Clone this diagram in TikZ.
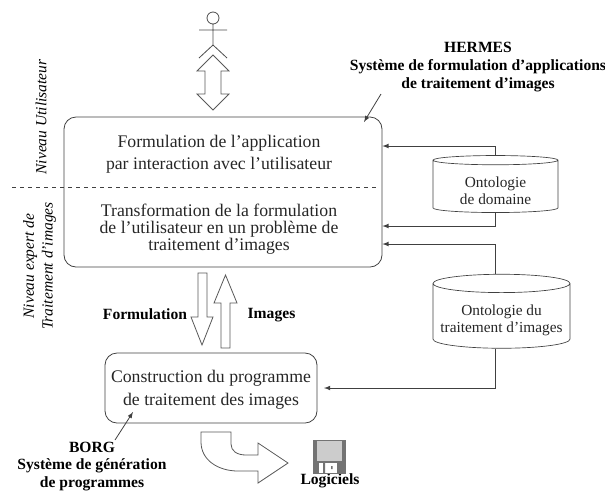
\documentclass[tikz,border=0pt]{standalone}
\usepackage{fontspec}
\setmainfont{Liberation Serif}
\usetikzlibrary{shapes.geometric}
\usetikzlibrary{arrows}

\tikzset{
	boite/.style={draw=black!75,rounded corners=9,line width=0.6pt},
	texte/.style={align=center,inner sep=0pt,font=\fontsize{13.3}{13}\selectfont,text=black!85},
	gras/.style={align=center,inner sep=0pt,font=\fontsize{11.7}{13.4}\selectfont\bfseries},
	niveau/.style={align=center,inner sep=0pt,rotate=90,font=\fontsize{11.6}{14}\selectfont\itshape},
	ontologie/.style={draw=black!75,line width=0.5pt,cylinder,shape border rotate=90,align=center,inner sep=0pt,font=\fontsize{11.5}{13}\selectfont,text=black!85},
	lien/.style={-latex,draw=black!75,line width=0.6pt},
	bloc/.style={draw=black!65,line width=0.6pt,line join=miter,fill=white}
}

\begin{document}
\begin{tikzpicture}[x=0.75pt,y=-0.75pt]
	\useasboundingbox (0,0) rectangle (605,490);

	% the two boxes
	\node[boite,minimum width=238.5pt,minimum height=112.5pt] (systeme) at (223,192) {};
	\node[boite,minimum width=159pt,minimum height=52.5pt] (programme) at (211,388) {};

	% dashed level line
	\coordinate (tiretG) at (12,187);
	\coordinate (tiretD) at (378,187);
	\draw[dashed,draw=black!75,line width=0.5pt] (tiretG) -- (tiretD);

	% text of the boxes
	\node[texte] (formulation) at (219,154) {Formulation de l’application\\[3.5pt]par interaction avec l’utilisateur};
	\node[texte] (transformation) at (219,229) {Transformation de la formulation\\de l’utilisateur en un problème de\\traitement d’images};
	\node[texte] (construction) at (211,390) {Construction du programme\\[4pt]de traitement des images};

	% level labels
	\node[niveau] (utilisateur) at (41,117) {Niveau Utilisateur};
	\node[niveau] (expert) at (39.5,266) {Niveau expert de\\Traitement d’images};

	% databases
	\node[ontologie,shape aspect=0.13,minimum width=93.75pt,minimum height=42.75pt] (domaine) at (495.5,186.5) {\rule{0pt}{14pt}Ontologie\\de domaine};
	\node[ontologie,shape aspect=0.15,minimum width=102.75pt,minimum height=55.5pt] (traitement) at (501.5,316) {\rule{0pt}{14pt}Ontologie du\\traitement d’images};

	\draw[lien] (domaine.north) |- (systeme.east |- 0,146);
	\draw[lien] (domaine.south) |- (systeme.east |- 0,226);
	\draw[lien] (domaine.north |- traitement.north) |- (systeme.east |- 0,244);
	\coordinate (pointe) at (324,388);
	\draw[lien] (domaine.south |- traitement.south) |- (pointe);

	% bold labels and their arrows
	\node[gras] (hermes) at (478,67) {HERMES\\Système de formulation d’applications\\de traitement d’images};
	\coordinate (hermesA) at (381,94);
	\coordinate (hermesB) at (364,122);
	\draw[lien] (hermesA) -- (hermesB);

	\node[gras] (borg) at (92,466.5) {BORG\\Système de génération\\de programmes};
	\coordinate (borgA) at (115,440);
	\coordinate (borgB) at (133,412);
	\draw[lien] (borgA) -- (borgB);

	\node[gras] (descente) at (145,314) {Formulation};
	\node[gras] (images) at (271.5,315) {Images};
	\node[gras] (logiciels) at (330,481) {Logiciels};

	% person
	\draw[draw=black!70,line width=0.6pt] (213,18) circle (6)
		(199,30) -- (227,30)
		(213,24) -- (213,45)
		(199,58) -- (213,45) -- (227,58);

	% block arrows
	\draw[bloc] (213,55) -- (229,71) -- (221,71) -- (221,94) -- (229,94) -- (213,110) -- (197,94) -- (205,94) -- (205,71) -- (197,71) -- cycle;
	\draw[bloc] (198,273) -- (207,273) -- (207,317) -- (213,317) -- (202,345) -- (191,317) -- (198,317) -- cycle;
	\draw[bloc] (221,348) -- (230,348) -- (230,303) -- (237,303) -- (225.5,275) -- (214,303) -- (221,303) -- cycle;
	\draw[bloc] (201,432) -- (231,432) -- (231,444) .. controls (231,451) and (237,455) .. (246,455)
		-- (258,455) -- (258,443) -- (288,463) -- (258,483) -- (258,471) -- (238,471)
		.. controls (218,471) and (201,460) .. (201,442) -- cycle;

	% floppy disk
	\fill[black!55] (313,440) -- (346,440) -- (346,474) -- (313,474) -- cycle;
	\fill[black!20] (317,441) -- (342,441) -- (342,461) -- (317,461) -- cycle;
	\fill[white] (319,463) -- (337,463) -- (337,473) -- (319,473) -- cycle;
	\fill[black!55] (323,463) rectangle (325,473) (331,466) rectangle (332.5,469);
\end{tikzpicture}
\end{document}
